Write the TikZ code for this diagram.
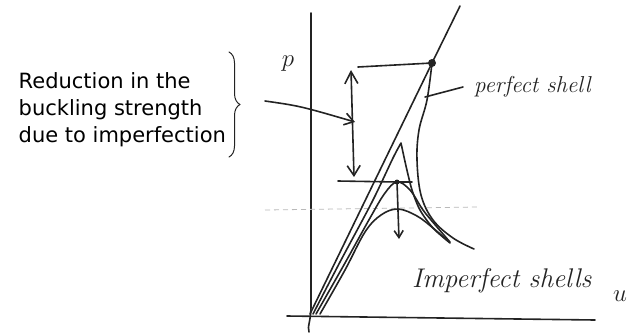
\documentclass[tikz,border=0pt]{standalone}
\usepackage{fontspec}
\newfontfamily\notefont{DejaVu Sans}
\usetikzlibrary{arrows.meta, decorations.pathreplacing}
\definecolor{ink}{RGB}{35,35,35}
\definecolor{smudge}{RGB}{185,185,185}

\begin{document}
\begin{tikzpicture}[x=1pt, y=-1pt,
  pen/.style={ink, line width=1.6pt, line cap=round, line join=round},
  barb/.style={pen, -{Straight Barb[length=9pt, width=12pt]}},
  dbarb/.style={pen, {Straight Barb[length=12pt, width=13pt]}-{Straight Barb[length=10pt, width=13pt]}},
  dotnode/.style={circle, fill=ink, inner sep=0pt, minimum size=8pt},
  smalldot/.style={circle, fill=ink, inner sep=0pt, minimum size=5pt},
  hand/.style={ink, inner sep=0pt, font=\itshape\fontsize{23}{23}\selectfont},
  note/.style={align=left, inner sep=0pt, font=\notefont\fontsize{21}{27}\selectfont}]
  \useasboundingbox (0,0) rectangle (629,335);
  % axes
  \draw[pen] (311,13) -- (311,305) .. controls (311,322) and (307,326) .. (309,332);
  \draw[pen] (287,316) -- (595,320);
  \node[hand, font=\fontsize{32}{32}\selectfont] (plabel) at (288,64) {$p$};
  \node[hand, font=\fontsize{28}{28}\selectfont] (ulabel) at (620,296) {$u$};
  % faint dashed level
  \draw[smudge, line width=0.8pt, dash pattern=on 5pt off 4pt] (265,210) -- (478,207);
  % perfect shell
  \node[dotnode] (peak) at (432,63) {};
  \coordinate (origin) at (310,314);
  \coordinate (upper) at (460,6);
  \draw[pen] (origin) -- (peak.center) -- (upper);
  \draw[pen] plot[smooth, tension=0.6] coordinates {(432,63) (427,100) (419,130) (417,160) (421,195) (433,220) (453,238) (474,249)};
  % imperfect shells
  \draw[pen] plot[smooth, tension=0.5] coordinates {(313,314) (340,262) (372,202) (393,158) (401,143)}
    -- plot[smooth, tension=0.5] coordinates {(401,143) (406,166) (412,190) (420,210) (433,228) (450,243)};
  \draw[pen] plot[smooth, tension=0.6] coordinates {(316,314) (345,263) (370,218) (385,193) (397,182) (410,190) (423,210) (437,227) (450,242)};
  \draw[pen] plot[smooth, tension=0.6] coordinates {(320,314) (345,270) (365,232) (381,215) (398,209) (417,216) (433,228) (448,241)};
  % load levels
  \node[smalldot] (imppeak) at (397,182) {};
  \coordinate (reflevel) at (358,67);
  \coordinate (implevel) at (338,181);
  \coordinate (impend) at (412,182);
  \draw[pen] (reflevel) -- (peak.center);
  \draw[pen] (implevel) -- (imppeak.center) -- (impend);
  % reduction arrows
  \coordinate (dtop) at (351,70);
  \coordinate (dbot) at (354,177);
  \draw[dbarb] (dtop) -- (dbot);
  \coordinate (drop) at (399,239);
  \draw[pen, -{Straight Barb[length=7pt, width=9pt]}] (imppeak.center) -- (drop);
  % labels
  \node[note, anchor=north west] (reduction) at (18.5,72) {Reduction in the\\buckling strength\\due to imperfection};
  \draw[pen, line width=1pt, decorate, decoration={brace, amplitude=11pt}] (229,52) -- (229,157);
  \coordinate (bracetip) at (265,101);
  \coordinate (target) at (355,122);
  \draw[barb] (bracetip) .. controls (300,106) .. (target);
  \node[hand, anchor=base west] (perfect) at (474,92) {perfect shell};
  \coordinate (curvept) at (425,97);
  \coordinate (leaderend) at (463,87);
  \draw[pen] (curvept) -- (leaderend);
  \node[hand, anchor=base west, font=\itshape\fontsize{27}{27}\selectfont] (imperfect) at (412,287) {Imperfect shells};
\end{tikzpicture}
\end{document}
